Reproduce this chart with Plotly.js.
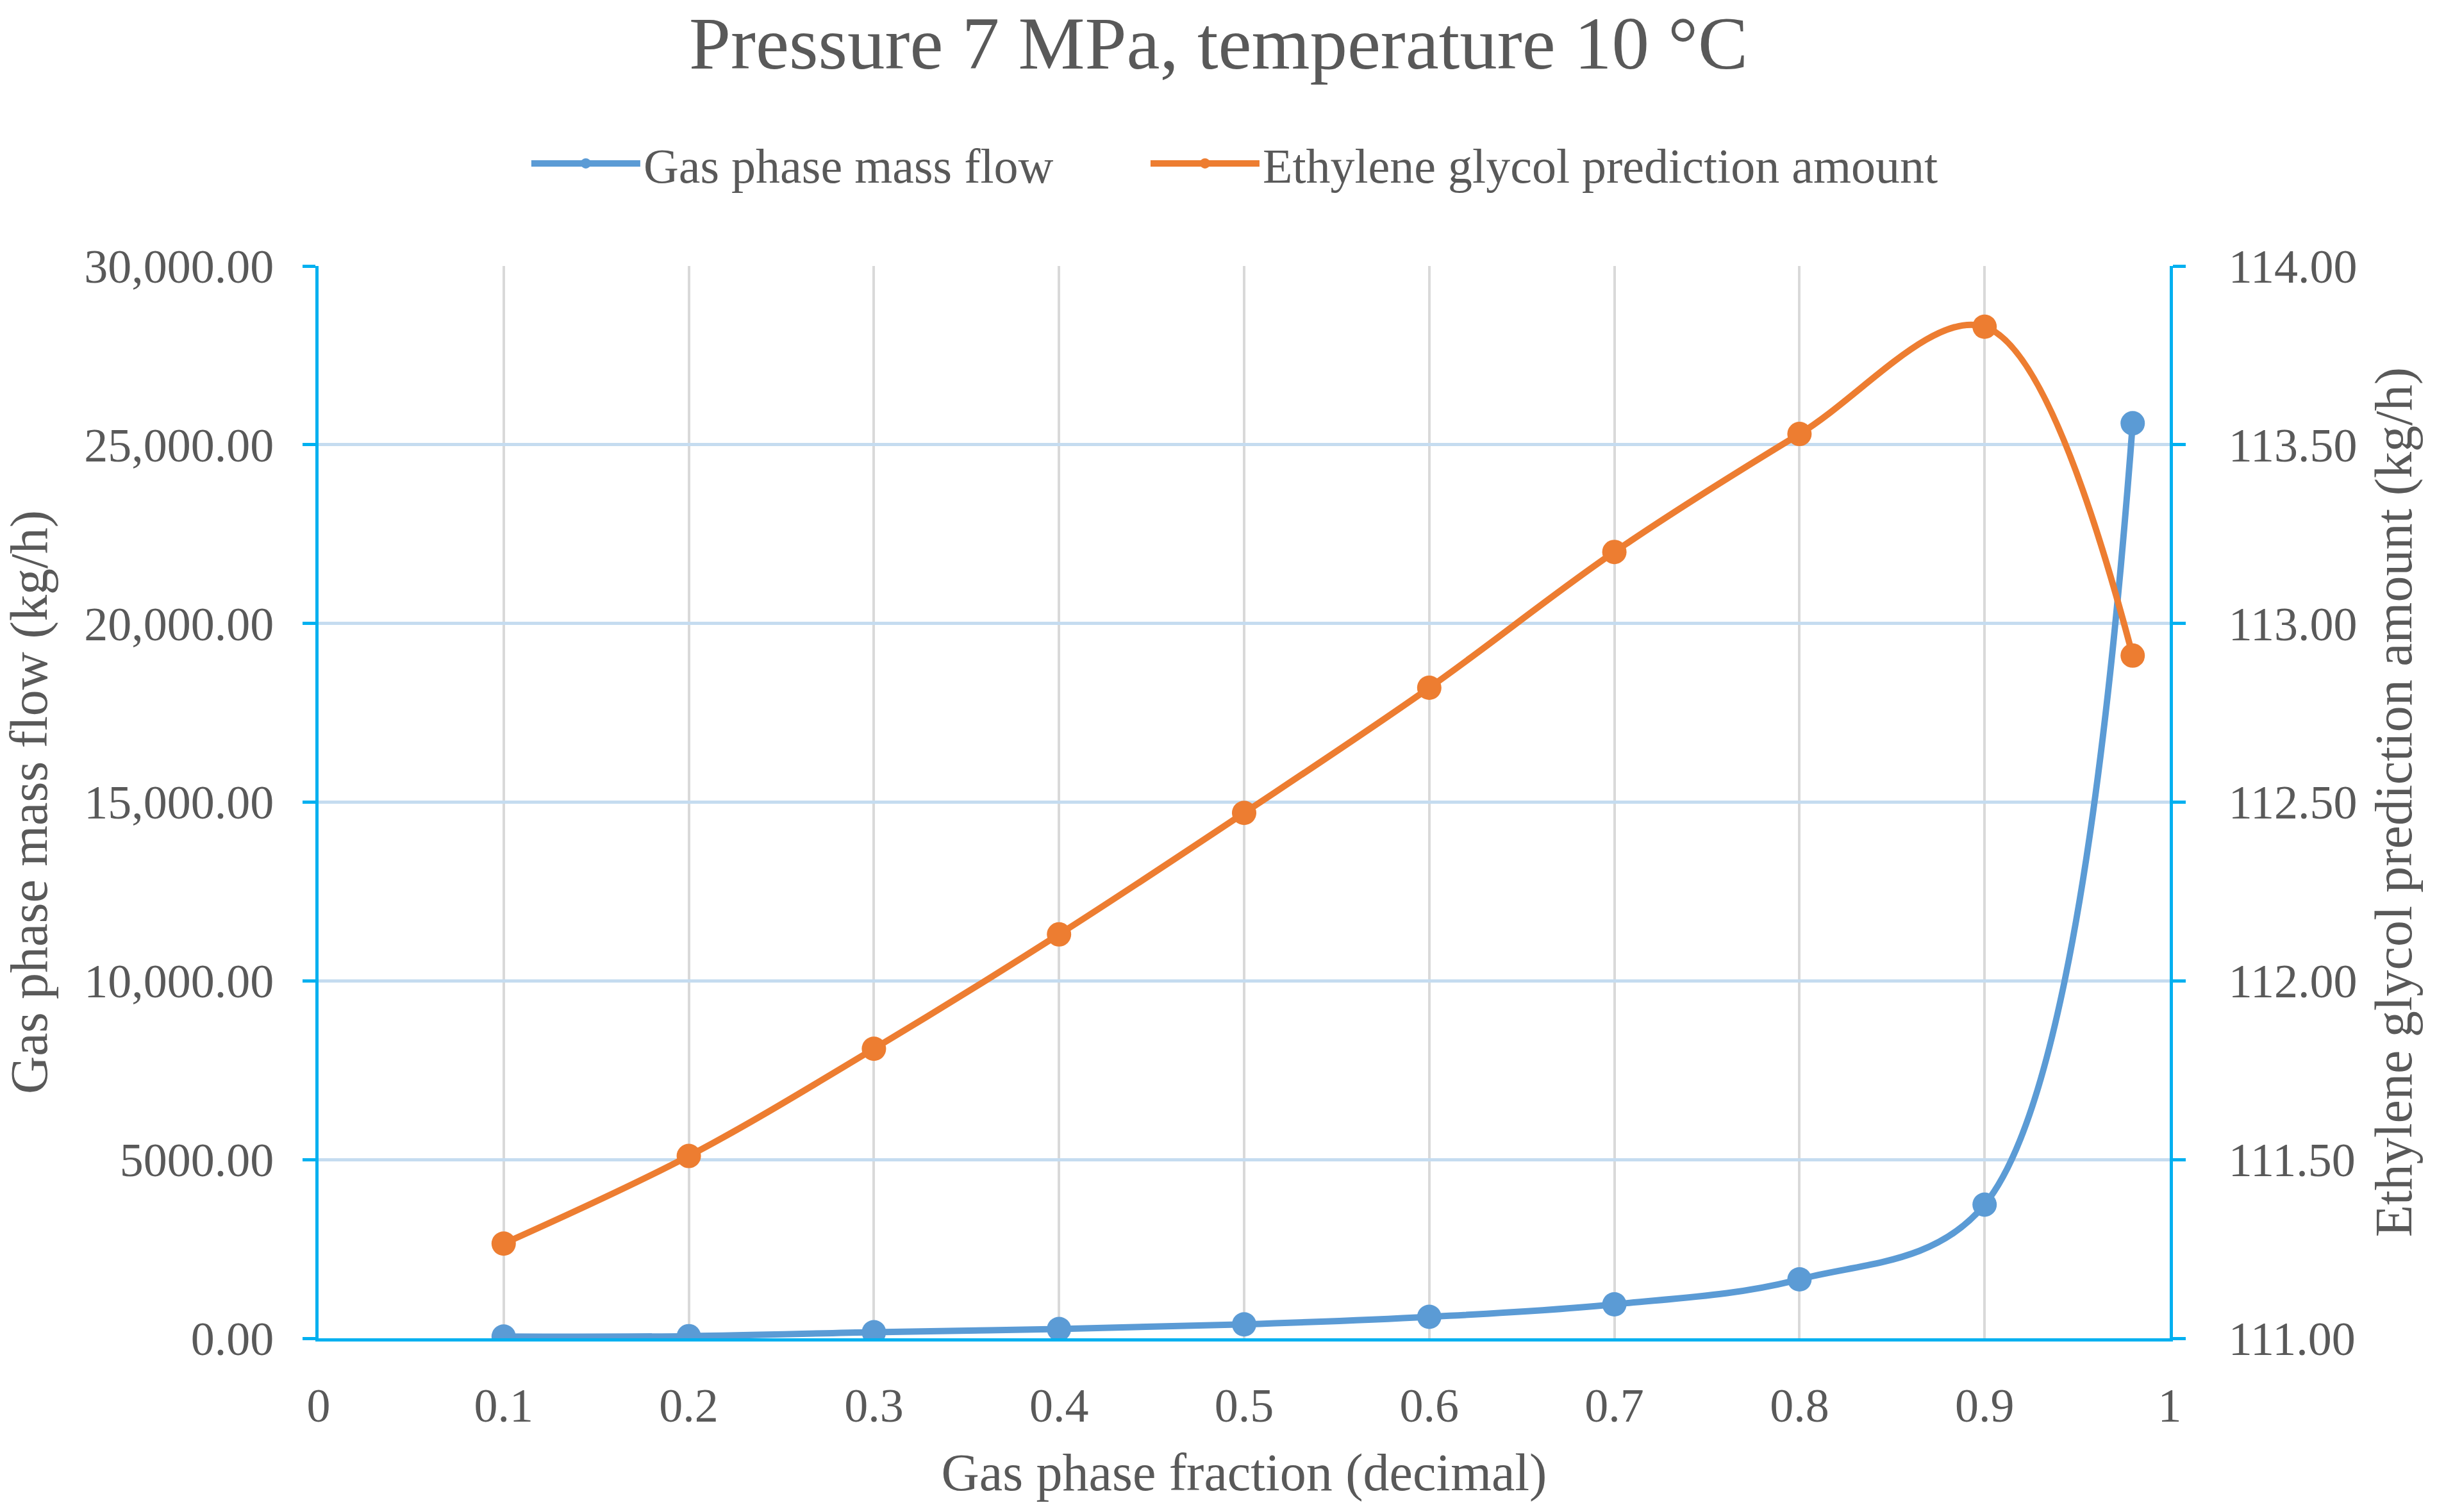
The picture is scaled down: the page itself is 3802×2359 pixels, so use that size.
<!DOCTYPE html>
<html>
<head>
<meta charset="utf-8">
<script src="https://cdn.plot.ly/plotly-3.0.1.min.js"></script>
<style>
  html, body { margin: 0; padding: 0; background: #fff; }
  #chart { width: 3802px; height: 2359px; }
</style>
</head>
<body>
<div id="chart"></div>
<script>
/* data */
var gasFraction = [0.1, 0.2, 0.3, 0.4, 0.5, 0.6, 0.7, 0.8, 0.9, 0.98];
var gasMassFlow = [50, 60, 170, 260, 390, 600, 950, 1650, 3740, 25600];
var glycolAmount = [111.265, 111.51, 111.81, 112.13, 112.47, 112.82, 113.20, 113.53, 113.83, 112.91];

var leftTickVals = [0, 5000, 10000, 15000, 20000, 25000, 30000];
var leftTickText = ['0.00', '5000.00', '10,000.00', '15,000.00', '20,000.00', '25,000.00', '30,000.00'];
var rightTickVals = [111, 111.5, 112, 112.5, 113, 113.5, 114];
var rightTickText = ['111.00', '111.50', '112.00', '112.50', '113.00', '113.50', '114.00'];
var xTickVals = [0, 0.1, 0.2, 0.3, 0.4, 0.5, 0.6, 0.7, 0.8, 0.9, 1];
var xTickText = ['0', '0.1', '0.2', '0.3', '0.4', '0.5', '0.6', '0.7', '0.8', '0.9', '1'];

var textColor = '#595959';
var axisBlue = '#00b0f0';

/* traces */
var gasTrace = {
  x: gasFraction,
  y: gasMassFlow,
  type: 'scatter',
  mode: 'lines+markers',
  name: 'Gas phase mass flow',
  yaxis: 'y',
  legend: 'legend',
  marker: { color: '#5b9bd5', size: 38 },
  line: { color: '#5b9bd5', width: 10, shape: 'spline', smoothing: 1 }
};

var glycolTrace = {
  x: gasFraction,
  y: glycolAmount,
  type: 'scatter',
  mode: 'lines+markers',
  name: 'Ethylene glycol prediction amount',
  yaxis: 'y2',
  legend: 'legend2',
  marker: { color: '#ed7d31', size: 38 },
  line: { color: '#ed7d31', width: 10, shape: 'spline', smoothing: 1 }
};

/* layout and config */
var legendBase = {
  orientation: 'h',
  xanchor: 'left',
  y: 1.0956,
  yanchor: 'middle',
  font: { size: 76, color: textColor },
  itemwidth: 170,
  bgcolor: 'rgba(0,0,0,0)'
};

var layout = {
  width: 3802,
  height: 2359,
  paper_bgcolor: '#ffffff',
  plot_bgcolor: '#ffffff',
  margin: { l: 497, r: 417, t: 415, b: 271 },
  font: { family: 'Liberation Serif, Times New Roman, serif', size: 72, color: textColor },
  title: {
    text: 'Pressure 7 MPa, temperature 10 °C',
    font: { size: 117, color: textColor },
    x: 0.5,
    xanchor: 'center',
    y: 0.972,
    yanchor: 'middle'
  },
  showlegend: true,
  legend: Object.assign({}, legendBase, { x: 0.1132 }),
  legend2: Object.assign({}, legendBase, { x: 0.4477 }),
  xaxis: {
    range: [0, 1],
    tickvals: xTickVals,
    ticktext: xTickText,
    showgrid: true,
    gridcolor: '#d9d9d9',
    gridwidth: 4,
    showline: true,
    linecolor: axisBlue,
    linewidth: 5,
    ticks: '',
    ticklabelstandoff: 36,
    zeroline: false,
    tickfont: { size: 74, color: textColor },
    title: { text: 'Gas phase fraction (decimal)', font: { size: 82, color: textColor }, standoff: 36 }
  },
  yaxis: {
    range: [0, 30000],
    tickvals: leftTickVals,
    ticktext: leftTickText,
    showgrid: true,
    gridcolor: '#c5dcf0',
    gridwidth: 5,
    showline: true,
    linecolor: axisBlue,
    linewidth: 5,
    ticks: 'outside',
    ticklen: 20,
    tickwidth: 5,
    tickcolor: axisBlue,
    ticklabelstandoff: 30,
    zeroline: false,
    tickfont: { size: 74, color: textColor },
    title: { text: 'Gas phase mass flow (kg/h)', font: { size: 82, color: textColor }, standoff: 50 }
  },
  yaxis2: {
    range: [111, 114],
    tickvals: rightTickVals,
    ticktext: rightTickText,
    overlaying: 'y',
    side: 'right',
    showgrid: false,
    showline: true,
    linecolor: axisBlue,
    linewidth: 5,
    ticks: 'outside',
    ticklen: 20,
    tickwidth: 5,
    tickcolor: axisBlue,
    ticklabelstandoff: 52,
    zeroline: false,
    tickfont: { size: 74, color: textColor },
    title: { text: 'Ethylene glycol prediction amount (kg/h)', font: { size: 82, color: textColor }, standoff: 30 }
  }
};

var config = {
  displayModeBar: false,
  responsive: false
};

Plotly.newPlot('chart', [gasTrace, glycolTrace], layout, config);
</script>
</body>
</html>
